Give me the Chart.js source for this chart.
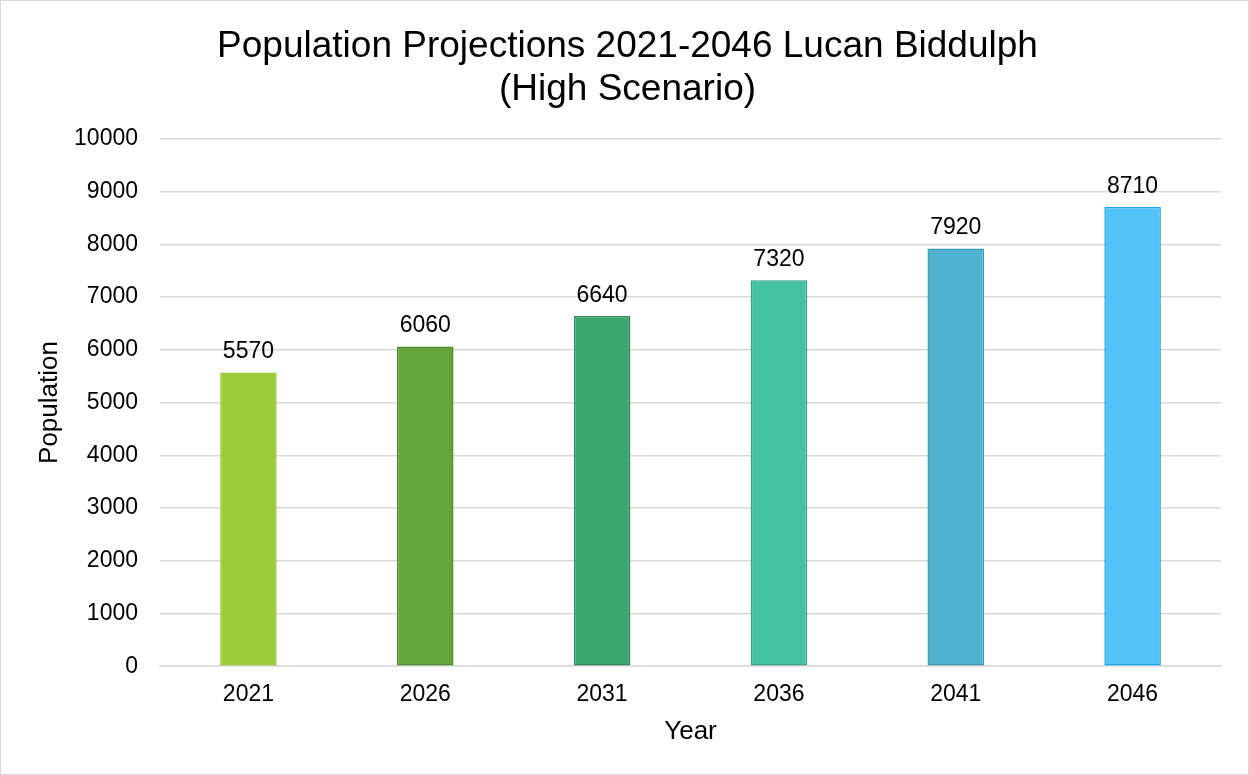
<!DOCTYPE html>
<html>
<head>
<meta charset="utf-8">
<script src="https://cdn.jsdelivr.net/npm/chart.js@4.4.0/dist/chart.umd.min.js"></script>
<style>
  html, body { margin: 0; padding: 0; background: #fff; }
  #wrap { position: relative; width: 1247px; height: 773px; border: 1px solid #d9d9d9; }
</style>
</head>
<body>
<div id="wrap"><canvas id="popChart"></canvas></div>
<script>
const years = ['2021', '2026', '2031', '2036', '2041', '2046'];
const population = [5570, 6060, 6640, 7320, 7920, 8710];
const fillColors = ['#9BCB3A', '#63A537', '#3AA76E', '#45C2A3', '#4FB3CF', '#52C4F8'];
const edgeColors = ['#9BCB3A', '#4F8A2D', '#2F8A5B', '#36A287', '#3C9AB6', '#1BA8EA'];
const yTicks = [0, 1000, 2000, 3000, 4000, 5000, 6000, 7000, 8000, 9000, 10000];

Chart.defaults.font.family = 'Arial, "Liberation Sans", sans-serif';
Chart.defaults.color = '#000';

// value labels above each bar
const barValues = {
    id: 'barValues',
    afterDatasetsDraw(chart) {
        const ctx = chart.ctx;
        const meta = chart.getDatasetMeta(0);
        ctx.save();
        ctx.font = '23px Arial, "Liberation Sans", sans-serif';
        ctx.fillStyle = '#000';
        ctx.textAlign = 'center';
        ctx.textBaseline = 'bottom';
        meta.data.forEach((bar, i) => {
            ctx.fillText(String(population[i]), bar.x, bar.y - 9);
        });
        ctx.restore();
    }
};

new Chart(document.getElementById('popChart').getContext('2d'), {
    type: 'bar',
    data: {
        labels: years,
        datasets: [{
            label: 'Population',
            data: population,
            backgroundColor: fillColors,
            borderColor: edgeColors,
            borderWidth: 1.5,
            borderSkipped: false,
            barPercentage: 0.32,
            categoryPercentage: 1.0
        }]
    },
    options: {
        responsive: true,
        maintainAspectRatio: false,
        animation: false,
        layout: { padding: { top: 20, right: 27, bottom: 24, left: 33 } },
        plugins: {
            legend: { display: false },
            tooltip: { enabled: false },
            title: {
                display: true,
                text: ['Population Projections 2021-2046 Lucan Biddulph', '(High Scenario)'],
                font: { size: 37, weight: 'normal', lineHeight: 1.16 },
                color: '#000',
                padding: { top: 4, bottom: 28 }
            }
        },
        scales: {
            x: {
                grid: { display: false, drawTicks: false },
                border: { color: '#d9d9d9', width: 1.5 },
                ticks: { font: { size: 23 }, padding: 15 },
                title: { display: true, text: 'Year', font: { size: 26 }, padding: { top: -8, bottom: 3 } }
            },
            y: {
                min: 0,
                max: 10000,
                afterBuildTicks(axis) { axis.ticks = yTicks.map(v => ({ value: v })); },
                afterFit(axis) { axis.width = 126; },
                grid: { color: '#d9d9d9', lineWidth: 1.5, drawTicks: false },
                border: { display: false },
                ticks: { font: { size: 23 }, padding: 22, callback: v => String(v) },
                title: { display: true, text: 'Population', font: { size: 26 }, padding: { top: 0, bottom: 8 } }
            }
        }
    },
    plugins: [barValues]
});
</script>
</body>
</html>
